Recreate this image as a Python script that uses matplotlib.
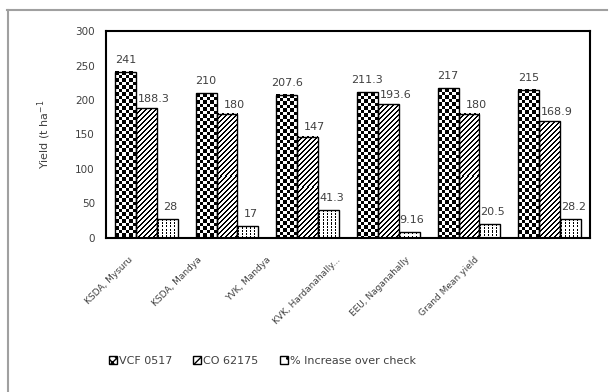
import numpy as np
import matplotlib.pyplot as plt
from matplotlib.patches import Patch
from matplotlib.lines import Line2D
from matplotlib.transforms import ScaledTranslation

sites = ["KSDA, Mysuru", "KSDA, Mandya", "YVK, Mandya", "KVK, Hardanahally...",
         "EEU, Naganahally", "Grand Mean yield"]
vcf = [241, 210, 207.6, 211.3, 217, 215]
co = [188.3, 180, 147, 193.6, 180, 168.9]
pct = [28, 17, 41.3, 9.16, 20.5, 28.2]
pct_txt = ["28", "17", "41.3", "9.16", "20.5", "28.2"]

W, H, DPI = 6.1, 3.92, 100
fig = plt.figure(figsize=(W, H), dpi=DPI)
ax = fig.add_axes([106/610, 1-238/392, (590-106)/610, (238-31)/392])

x = np.arange(len(sites))
bw = 0.26
XLIM = (-0.5, len(sites) - 0.5)
YLIM = (0, 300)

# pixels per data unit, used to build the fill patterns at screen resolution
bb = ax.get_position()
px_x = bb.width * W * DPI / (XLIM[1] - XLIM[0])
px_y = bb.height * H * DPI / (YLIM[1] - YLIM[0])


def pattern(kind, nh, nw):
    r, c = np.indices((nh, nw))
    if kind == "check":
        img = ((2 * r) // 7 + (2 * c) // 7) % 2
    elif kind == "stripe":
        img = ((r + c) % 5 >= 2).astype(int)
    else:
        img = 1 - ((c % 4 == 1) & (r % 3 != 0)).astype(int)
    return img


def fill_bars(xs, vals, kind):
    for xc, v in zip(xs, vals):
        nw = max(1, int(round(bw * px_x)))
        nh = max(1, int(round(v * px_y)))
        ax.imshow(pattern(kind, nh, nw), cmap="gray", vmin=0, vmax=1,
                  extent=(xc - bw/2, xc + bw/2, 0, v), interpolation="nearest",
                  aspect="auto", zorder=2)
    ax.bar(xs, vals, bw, facecolor="none", edgecolor="black", linewidth=1.0, zorder=3)


fill_bars(x - bw, vcf, "check")
fill_bars(x, co, "stripe")
fill_bars(x + bw, pct, "dots")

txt_c = "#404040"
for i in range(len(sites)):
    ax.annotate(f"{vcf[i]:g}", (x[i] - bw, vcf[i]), xytext=(0, 5), textcoords="offset points",
                ha="center", va="bottom", fontsize=8, color=txt_c)
    ax.annotate(f"{co[i]:g}", (x[i], co[i]), xytext=(5, 3), textcoords="offset points",
                ha="center", va="bottom", fontsize=8, color=txt_c)
    ax.annotate(pct_txt[i], (x[i] + bw, pct[i]), xytext=(2, 5), textcoords="offset points",
                ha="center", va="bottom", fontsize=8, color=txt_c)

ax.set_xlim(*XLIM)
ax.set_ylim(*YLIM)
ax.set_yticks(range(0, 301, 50))
ax.set_xticks(x)
ax.set_xticklabels([])
# category labels, drifting progressively further left of their ticks
for i, name in enumerate(sites):
    shift = ScaledTranslation(-(18 + 11.5 * i) / DPI, -17 / DPI, fig.dpi_scale_trans)
    ax.text(x[i], 0, name, transform=ax.get_xaxis_transform() + shift,
            rotation=45, ha="right", va="top", rotation_mode="anchor",
            fontsize=6.5, color=txt_c)
ax.tick_params(length=0, labelsize=7.5, labelcolor="#404040")
ax.tick_params(axis="y", pad=8)
for s in ax.spines.values():
    s.set_linewidth(1.5)
ax.set_ylabel("Yield (t ha$^{-1}$", fontsize=8, color=txt_c, labelpad=16)

# frame lines at top and left of the figure
fig.add_artist(Line2D([7/610, 607/610], [1-10/392, 1-10/392], color="#a0a0a0", lw=1.5))
fig.add_artist(Line2D([8/610, 8/610], [0, 1-10/392], color="#a0a0a0", lw=1.5))

handles = [Patch(facecolor="white", edgecolor="black", hatch="xxxx"),
           Patch(facecolor="white", edgecolor="black", hatch="////"),
           Patch(facecolor="white", edgecolor="black", hatch="..")]
labels = ["VCF 0517", "CO 62175", "% Increase over check"]
fig.legend(handles, labels, loc="center", bbox_to_anchor=(0.43, 1-361/392), ncol=3,
           frameon=False, fontsize=8, handlelength=0.7, handleheight=0.7,
           handletextpad=0.2, columnspacing=1.9, labelcolor=txt_c)

fig.savefig("out.png", dpi=DPI)
